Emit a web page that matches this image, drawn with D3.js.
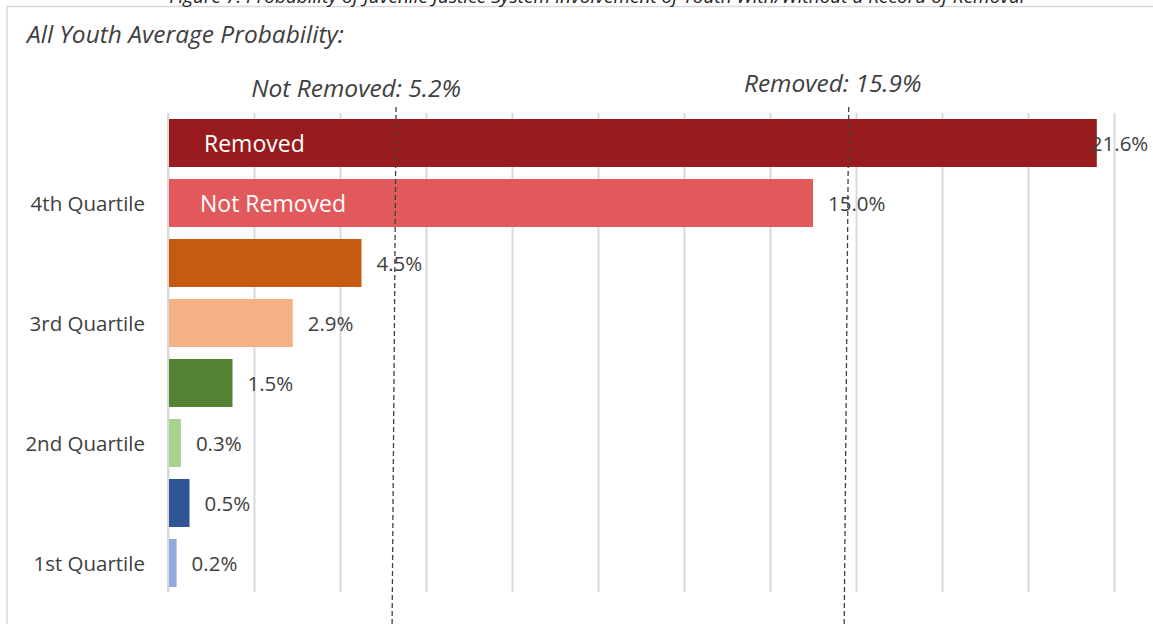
<!DOCTYPE html>
<html><head><meta charset="utf-8">
<script src="https://cdn.jsdelivr.net/npm/d3@7"></script>
<style>
html,body{margin:0;padding:0;background:#fff;}
svg{display:block;}
</style></head>
<body>
<svg id="chart" width="1153" height="624"></svg>
<script>
// ---- data ----
const quartiles = ["4th Quartile", "3rd Quartile", "2nd Quartile", "1st Quartile"];
const removedValues = [21.6, 4.5, 1.5, 0.5];
const notRemovedValues = [15.0, 2.9, 0.3, 0.2];
const removedColors = ["#981b1e", "#c55a11", "#548235", "#2f5597"];
const notRemovedColors = ["#e2595c", "#f4b183", "#a9d18e", "#8faadc"];
const xTicks = [0, 2, 4, 6, 8, 10, 12, 14, 16, 18, 20, 22];
const averageLabels = ["Not Removed: 5.2%", "Removed: 15.9%"];
const averageValues = [5.2, 15.9];
const figureTitle = "Figure 7: Probability of Juvenile Justice System Involvement of Youth With/Without a Record of Removal";
const subTitle = "All Youth Average Probability:";

// build rows
const rows = [];
quartiles.forEach((q, i) => {
  rows.push({key: q + "|R", q, series: "Removed", value: removedValues[i], color: removedColors[i], first: true});
  rows.push({key: q + "|N", q, series: "Not Removed", value: notRemovedValues[i], color: notRemovedColors[i], first: false});
});

const svg = d3.select("#chart");
const font = "'Open Sans', sans-serif";
const textColor = "#404040";

const x = d3.scaleLinear().domain([0, 22]).range([168, 1114]);
const y = d3.scaleBand().domain(rows.map(d => d.key)).range([113, 593]).paddingInner(0.2).paddingOuter(0.1);

// frame
svg.append("line").attr("x1", 7).attr("x2", 1153).attr("y1", 6.5).attr("y2", 6.5).attr("stroke", "#d9d9d9").attr("stroke-width", 1.5);
svg.append("line").attr("x1", 7).attr("x2", 7).attr("y1", 6).attr("y2", 624).attr("stroke", "#d9d9d9").attr("stroke-width", 1.5);

// figure title (clipped by the top edge, as in the source image)
svg.append("text").attr("x", 597).attr("y", 3).attr("text-anchor", "middle")
  .attr("font-family", font).attr("font-style", "italic").attr("font-size", 19).attr("fill", "#222")
  .text(figureTitle);

// subtitle
svg.append("text").attr("x", 27).attr("y", 43)
  .attr("font-family", font).attr("font-style", "italic").attr("font-size", 24.5).attr("fill", textColor)
  .text(subTitle);

// gridlines via axis
const gridAxis = d3.axisBottom(x).tickValues(xTicks).tickSize(-(592 - 113)).tickFormat("");
const g = svg.append("g").attr("transform", "translate(0,592)").call(gridAxis);
g.select(".domain").remove();
g.selectAll(".tick line").attr("stroke", "#d9d9d9").attr("stroke-width", 2);

// bars
svg.append("g").selectAll("rect").data(rows).join("rect")
  .attr("x", x(0) + 1).attr("y", d => y(d.key))
  .attr("width", d => x(d.value) - x(0) - 1).attr("height", y.bandwidth())
  .attr("fill", d => d.color);

// value labels
svg.append("g").selectAll("text").data(rows).join("text")
  .attr("x", d => x(d.value) + (d.value > 20 ? -6 : 15))
  .attr("y", d => y(d.key) + y.bandwidth() / 2 + 7.5)
  .attr("font-family", font).attr("font-size", 20.5).attr("fill", textColor)
  .text(d => d.value.toFixed(1) + "%");

// series names inside top bars
svg.append("g").selectAll("text").data(rows.slice(0, 2)).join("text")
  .attr("x", d => x(0) + (d.first ? 36 : 32))
  .attr("y", d => y(d.key) + y.bandwidth() / 2 + 8.5)
  .attr("font-family", font).attr("font-size", 23).attr("fill", "#fff")
  .text(d => d.series);

// category labels (centered on second bar of each group)
svg.append("g").selectAll("text").data(quartiles).join("text")
  .attr("x", 145).attr("text-anchor", "end")
  .attr("y", q => y(q + "|N") + y.bandwidth() / 2 + 7.5)
  .attr("font-family", font).attr("font-size", 20.5).attr("fill", textColor)
  .text(q => q);

// average dashed lines + labels
const lineSkew = [[4.5, 0.5], [-3, -7.5]];
const labelDx = [-40, -16];
const labelY = [97, 92];
averageValues.forEach((v, i) => {
  svg.append("line")
    .attr("x1", x(v) + lineSkew[i][0]).attr("y1", 107)
    .attr("x2", x(v) + lineSkew[i][1]).attr("y2", 624)
    .attr("stroke", "#404040").attr("stroke-width", 1.3).attr("stroke-dasharray", "5,3");
  svg.append("text")
    .attr("x", x(v) + lineSkew[i][0] + labelDx[i]).attr("y", labelY[i]).attr("text-anchor", "middle")
    .attr("font-family", font).attr("font-style", "italic").attr("font-size", 24.5).attr("fill", textColor)
    .text(averageLabels[i]);
});

// left axis line
svg.append("line").attr("x1", x(0)).attr("x2", x(0)).attr("y1", 113).attr("y2", 592)
  .attr("stroke", "#d9d9d9").attr("stroke-width", 2);
</script>
</body></html>
